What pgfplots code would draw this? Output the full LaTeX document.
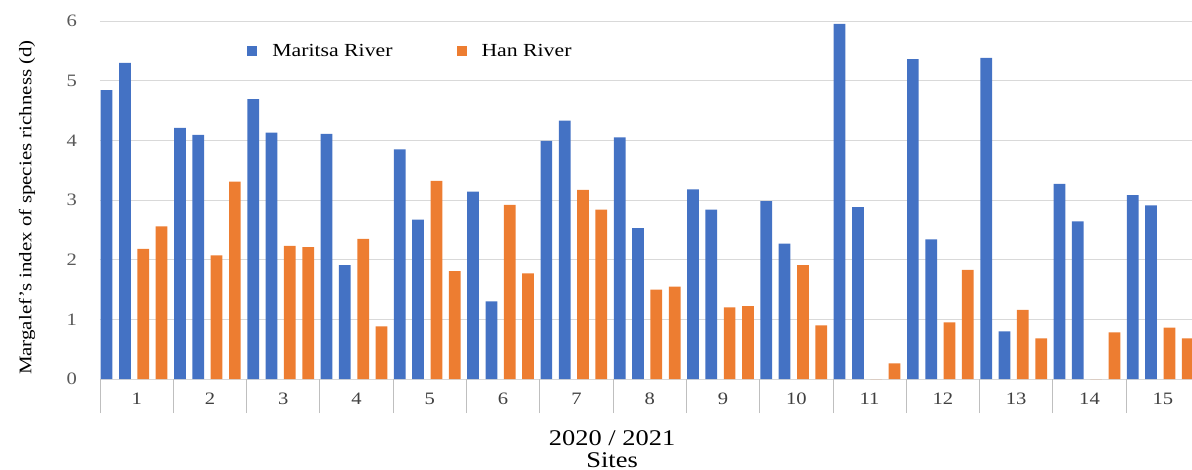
\documentclass[border=0pt]{standalone}
\usepackage{fontspec}
\setmainfont{Liberation Serif}[FakeStretch=1.18]
\usepackage{pgfplots}
\pgfplotsset{compat=1.18}
\definecolor{mblue}{HTML}{4472C4}
\definecolor{horange}{HTML}{ED7D31}
\definecolor{gridc}{HTML}{D9D9D9}
\definecolor{sepc}{HTML}{BFBFBF}
\definecolor{tickc}{HTML}{595959}
\definecolor{xtickc}{HTML}{404040}
\begin{document}
\begin{tikzpicture}
\path[use as bounding box] (-100bp,-91bp) rectangle (1092bp,379bp);
\begin{axis}[
  at={(0,0)}, anchor=south west,
  scale only axis, width=1092bp, height=358bp,
  xmin=0.5, xmax=15.398, ymin=0, ymax=6,
  ytick={0,1,2,3,4,5,6}, xtick={1,2,...,15},
  tick pos=left,
  /pgf/number format/assume math mode=true,
  axis line style={draw=none},
  major tick length=0pt,
  ymajorgrids, grid style={draw=gridc, line width=0.9bp},
  extra x ticks={0.5,1.5,...,14.5},
  extra x tick labels={},
  extra x tick style={major tick length=34bp, tick align=outside, tick style={draw=sepc, line width=0.9bp}, xmajorgrids=false},
  yticklabel style={font=\fontsize{17.5}{18}\selectfont, text=tickc, anchor=east, inner sep=0pt, xshift=-23bp},
  xticklabel style={font=\fontsize{17.5}{18}\selectfont, text=xtickc, anchor=base, inner sep=0pt, yshift=-25bp},
  ylabel={Margalef’s index of species richness (d)},
  ylabel style={font=\fontsize{17.8}{19}\selectfont, at={(axis description cs:-0.0668,0.479)}, anchor=center, inner sep=0pt},
  xlabel={2020 / 2021\\Sites},
  xlabel style={font=\fontsize{22.5}{22}\selectfont, align=center, at={(axis description cs:0.469,-0.1425)}, anchor=north, inner sep=0pt},
  legend style={at={(axis description cs:0.132,0.916)}, anchor=west, draw=none, fill=none, font=\fontsize{18.5}{20}\selectfont, legend columns=2,
    /tikz/every even column/.append style={column sep=62bp},
    /tikz/every odd column/.append style={column sep=13bp}},
  legend image code/.code={\fill (0bp,-5bp) rectangle (10bp,5bp);},
  legend cell align=left,
]
\addplot[ybar, bar width=0.16, bar shift=-0.41, fill=mblue, draw=none] coordinates {
(1,4.84) (2,4.21) (3,4.69) (4,4.11) (5,3.85) (6,3.14) (7,3.99) (8,4.05) (9,3.18) (10,2.98) (11,5.95) (12,5.36) (13,5.38) (14,3.27) (15,3.08)};
\addlegendentry{Maritsa River}
\addplot[ybar, bar width=0.16, bar shift=-0.16, fill=mblue, draw=none, forget plot] coordinates {
(1,5.30) (2,4.09) (3,4.13) (4,1.91) (5,2.67) (6,1.30) (7,4.33) (8,2.53) (9,2.84) (10,2.27) (11,2.88) (12,2.34) (13,0.80) (14,2.64) (15,2.91)};
\addplot[ybar, bar width=0.16, bar shift=0.09, fill=horange, draw=none] coordinates {
(1,2.18) (2,2.07) (3,2.23) (4,2.35) (5,3.32) (6,2.92) (7,3.17) (8,1.50) (9,1.20) (10,1.91) (11,0) (12,0.95) (13,1.16) (14,0) (15,0.86)};
\addlegendentry{Han River}
\addplot[ybar, bar width=0.16, bar shift=0.34, fill=horange, draw=none, forget plot] coordinates {
(1,2.56) (2,3.31) (3,2.21) (4,0.88) (5,1.81) (6,1.77) (7,2.84) (8,1.55) (9,1.22) (10,0.90) (11,0.26) (12,1.83) (13,0.68) (14,0.78) (15,0.68)};
\end{axis}
\end{tikzpicture}
\end{document}
